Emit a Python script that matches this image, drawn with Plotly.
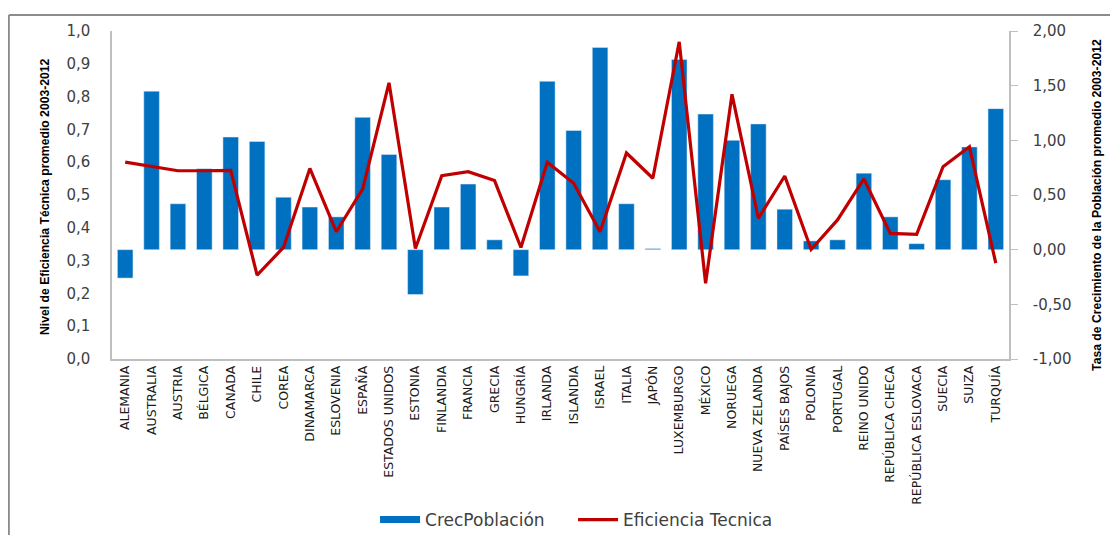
import plotly.graph_objects as go

# countries (OECD) on the x axis
paises = ["ALEMANIA", "AUSTRALIA", "AUSTRIA", "BÉLGICA", "CANADA", "CHILE", "COREA",
          "DINAMARCA", "ESLOVENIA", "ESPAÑA", "ESTADOS UNIDOS", "ESTONIA", "FINLANDIA",
          "FRANCIA", "GRECIA", "HUNGRÍA", "IRLANDA", "ISLANDIA", "ISRAEL", "ITALIA",
          "JAPÓN", "LUXEMBURGO", "MÉXICO", "NORUEGA", "NUEVA ZELANDA", "PAÍSES BAJOS",
          "POLONIA", "PORTUGAL", "REINO UNIDO", "REPÚBLICA CHECA", "REPÚBLICA ESLOVACA",
          "SUECIA", "SUIZA", "TURQUÍA"]

# population growth rate (right axis)
crec_poblacion = [-0.26, 1.45, 0.42, 0.74, 1.03, 0.99, 0.48, 0.39, 0.30, 1.21,
                  0.87, -0.41, 0.39, 0.60, 0.09, -0.24, 1.54, 1.09, 1.85, 0.42,
                  0.01, 1.74, 1.24, 1.00, 1.15, 0.37, 0.08, 0.09, 0.70, 0.30,
                  0.055, 0.64, 0.94, 1.29]

# technical efficiency (left axis)
eficiencia = [0.600, 0.588, 0.574, 0.574, 0.575, 0.256, 0.340, 0.581, 0.388, 0.518,
              0.842, 0.337, 0.559, 0.571, 0.544, 0.340, 0.600, 0.536, 0.388, 0.628,
              0.551, 0.967, 0.231, 0.807, 0.429, 0.558, 0.334, 0.424, 0.549, 0.383,
              0.380, 0.586, 0.647, 0.292]

left_ticks = [0.0, 0.1, 0.2, 0.3, 0.4, 0.5, 0.6, 0.7, 0.8, 0.9, 1.0]
left_ticktext = ["0,0", "0,1", "0,2", "0,3", "0,4", "0,5", "0,6", "0,7", "0,8", "0,9", "1,0"]
right_ticks = [-1.0, -0.5, 0.0, 0.5, 1.0, 1.5, 2.0]
right_ticktext = ["-1,00", "-0,50", "0,00", "0,50", "1,00", "1,50", "2,00"]

font = "DejaVu Sans, Verdana, sans-serif"
title_font = "Liberation Sans, Arial, sans-serif"
blue = "#0070C0"
red = "#C00000"

fig = go.Figure()

fig.add_trace(go.Bar(
    x=paises, y=crec_poblacion, name="CrecPoblación",
    marker_color=blue, yaxis="y", showlegend=False
))
# legend entry drawn as a wide block, like the excel legend
fig.add_trace(go.Scatter(
    x=[None], y=[None], name="CrecPoblación", mode="lines",
    line=dict(color=blue, width=7), yaxis="y"
))

fig.add_trace(go.Scatter(
    x=paises, y=eficiencia, name="Eficiencia Tecnica", mode="lines",
    line=dict(color=red, width=3.2), yaxis="y2"
))

# page body has an 8px margin, so the figure is a bit smaller than the window
fig.update_layout(
    width=1110, height=527,
    margin=dict(l=104, r=109, t=23, b=176),
    paper_bgcolor="white", plot_bgcolor="white",
    bargap=0.41,
    showlegend=True,
    legend=dict(orientation="h", x=0.514, xanchor="center", yref="container", y=0.0285,
                yanchor="middle", font=dict(family=font, size=17, color="#404040"),
                traceorder="normal", itemwidth=40, entrywidth=143),
    xaxis=dict(
        showline=True, linecolor="#BFBFBF", linewidth=1.5, tickangle=-90, automargin=False,
        ticks="", showgrid=False, tickfont=dict(family=font, size=12.5, color="#1a1a1a"),
        range=[-0.5, len(paises) - 0.5]
    ),
    # bars on the right scale
    yaxis=dict(
        side="right", range=[-1, 2], tickvals=right_ticks, ticktext=right_ticktext,
        showgrid=False, zeroline=False, showline=True, linecolor="#BFBFBF", linewidth=1.5,
        ticks="outside", ticklen=7, tickcolor="#BFBFBF", ticklabelstandoff=12, automargin=False,
        tickfont=dict(family=font, size=15, color="#404040")
    ),
    # efficiency line on the left scale (drawn over bars)
    yaxis2=dict(
        side="left", overlaying="y", range=[0, 1], tickvals=left_ticks, ticktext=left_ticktext,
        showgrid=False, zeroline=False, showline=True, linecolor="#BFBFBF", linewidth=1.5,
        ticks="", ticklabelstandoff=17, automargin=False,
        tickfont=dict(family=font, size=15, color="#404040")
    ),
    annotations=[
        dict(text="<b>Nivel de Eficiencia Técnica promedio 2003-2012</b>", textangle=-90,
             xref="paper", yref="paper", x=-0.0747, y=0.497, showarrow=False,
             xanchor="center", yanchor="middle",
             font=dict(family=title_font, size=12.2, color="#000000")),
        dict(text="<b>Tasa de Crecimiento de la Población promedio 2003-2012</b>", textangle=-90,
             xref="paper", yref="paper", x=1.098, y=0.4695, showarrow=False,
             xanchor="center", yanchor="middle",
             font=dict(family=title_font, size=12.2, color="#000000")),
    ],
    shapes=[
        dict(type="line", xref="paper", yref="paper", x0=-0.115, x1=1.2, y0=1.0488, y1=1.0488,
             line=dict(color="#8C8C8C", width=2)),
        dict(type="line", xref="paper", yref="paper", x0=-0.115, x1=-0.115, y0=1.0488, y1=-0.6,
             line=dict(color="#8C8C8C", width=2)),
    ],
)

fig.write_html("out.html")
